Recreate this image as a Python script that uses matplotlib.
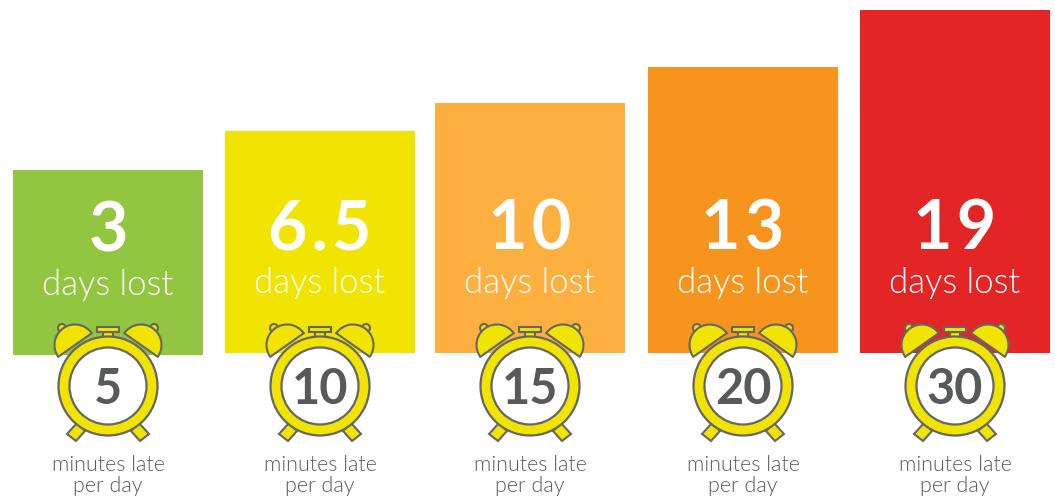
"""Days lost per year for minutes late per day -- bars with alarm clocks"""

import numpy as np
import matplotlib.pyplot as plt
from matplotlib.patches import Circle, Wedge, Polygon, Rectangle

days_lost = ['3', '6.5', '10', '13', '19']
minutes_late = ['5', '10', '15', '20', '30']
bar_heights = [185, 222, 250, 286, 343]
bar_colors = ['#92C540', '#F0E400', '#FDB03F', '#F7941D', '#E32526']

YELLOW = '#F0E400'
GREY = '#666666'
TEXT = '#58595B'

plt.rcParams['font.family'] = ['Lato', 'DejaVu Sans']

fig = plt.figure(figsize=(10.55, 4.97), dpi=100)
ax = fig.add_axes([0, 0, 1, 1])
ax.set_xlim(0, 1055)
ax.set_ylim(497, 0)
ax.axis('off')


def draw_clock(ax, cx, cy, label):
    # bells, knobs, feet are mirrored about the centre line
    for side in (-1, 1):
        ax.add_patch(Circle((cx + side * 46, cy - 58), 4, fc=YELLOW, ec=GREY, lw=1.5, zorder=3))
        angle = np.degrees(np.arctan2(-34, side * 24))
        ax.add_patch(Wedge((cx + side * 33, cy - 41), 20.5, angle - 90, angle + 90,
                           fc=YELLOW, ec=GREY, lw=1.5, zorder=3))
        foot = [(side * 41, 48), (side * 31, 37), (side * 23, 45), (side * 32, 55)]
        ax.add_patch(Polygon([(cx + a, cy + b) for a, b in foot],
                             fc=YELLOW, ec=GREY, lw=1.5, zorder=3))
    ax.add_patch(Rectangle((cx - 5, cy - 54), 10, 6, fc=YELLOW, ec=GREY, lw=1.5, zorder=3))
    ax.add_patch(Rectangle((cx - 11, cy - 59), 22, 5, fc=YELLOW, ec=GREY, lw=1.5, zorder=3))
    ax.add_patch(Circle((cx, cy), 49.5, fc=YELLOW, ec=GREY, lw=1.6, zorder=4))
    ax.add_patch(Circle((cx, cy), 38.5, fc='white', ec=GREY, lw=1.6, zorder=5))
    ax.text(cx, cy + 18.5, label, ha='center', va='baseline', fontsize=35,
            fontweight='bold', color=TEXT, zorder=6)


centers = [108, 320, 530, 743, 955]
baselines = [355, 353, 353, 353, 353]

ax.bar(centers, -np.array(bar_heights), bottom=baselines, width=190, color=bar_colors, zorder=1)

for i in range(5):
    cx = centers[i]
    shift = 2 if i == 0 else 0
    ax.text(cx, 249 + shift, '\u200a'.join(days_lost[i]), ha='center', va='baseline',
            fontsize=49, fontweight='bold', color='white', zorder=2)
    ax.text(cx, 293 + shift, 'days lost', ha='center', va='baseline',
            fontsize=25, fontweight=300, color='white', zorder=2)
    draw_clock(ax, cx, 386, minutes_late[i])
    ax.text(cx, 471, 'minutes late', ha='center', va='baseline',
            fontsize=15.5, fontweight=300, color=TEXT)
    ax.text(cx, 492, 'per day', ha='center', va='baseline',
            fontsize=15.5, fontweight=300, color=TEXT)

plt.savefig('out.png', dpi=100)
plt.close()
